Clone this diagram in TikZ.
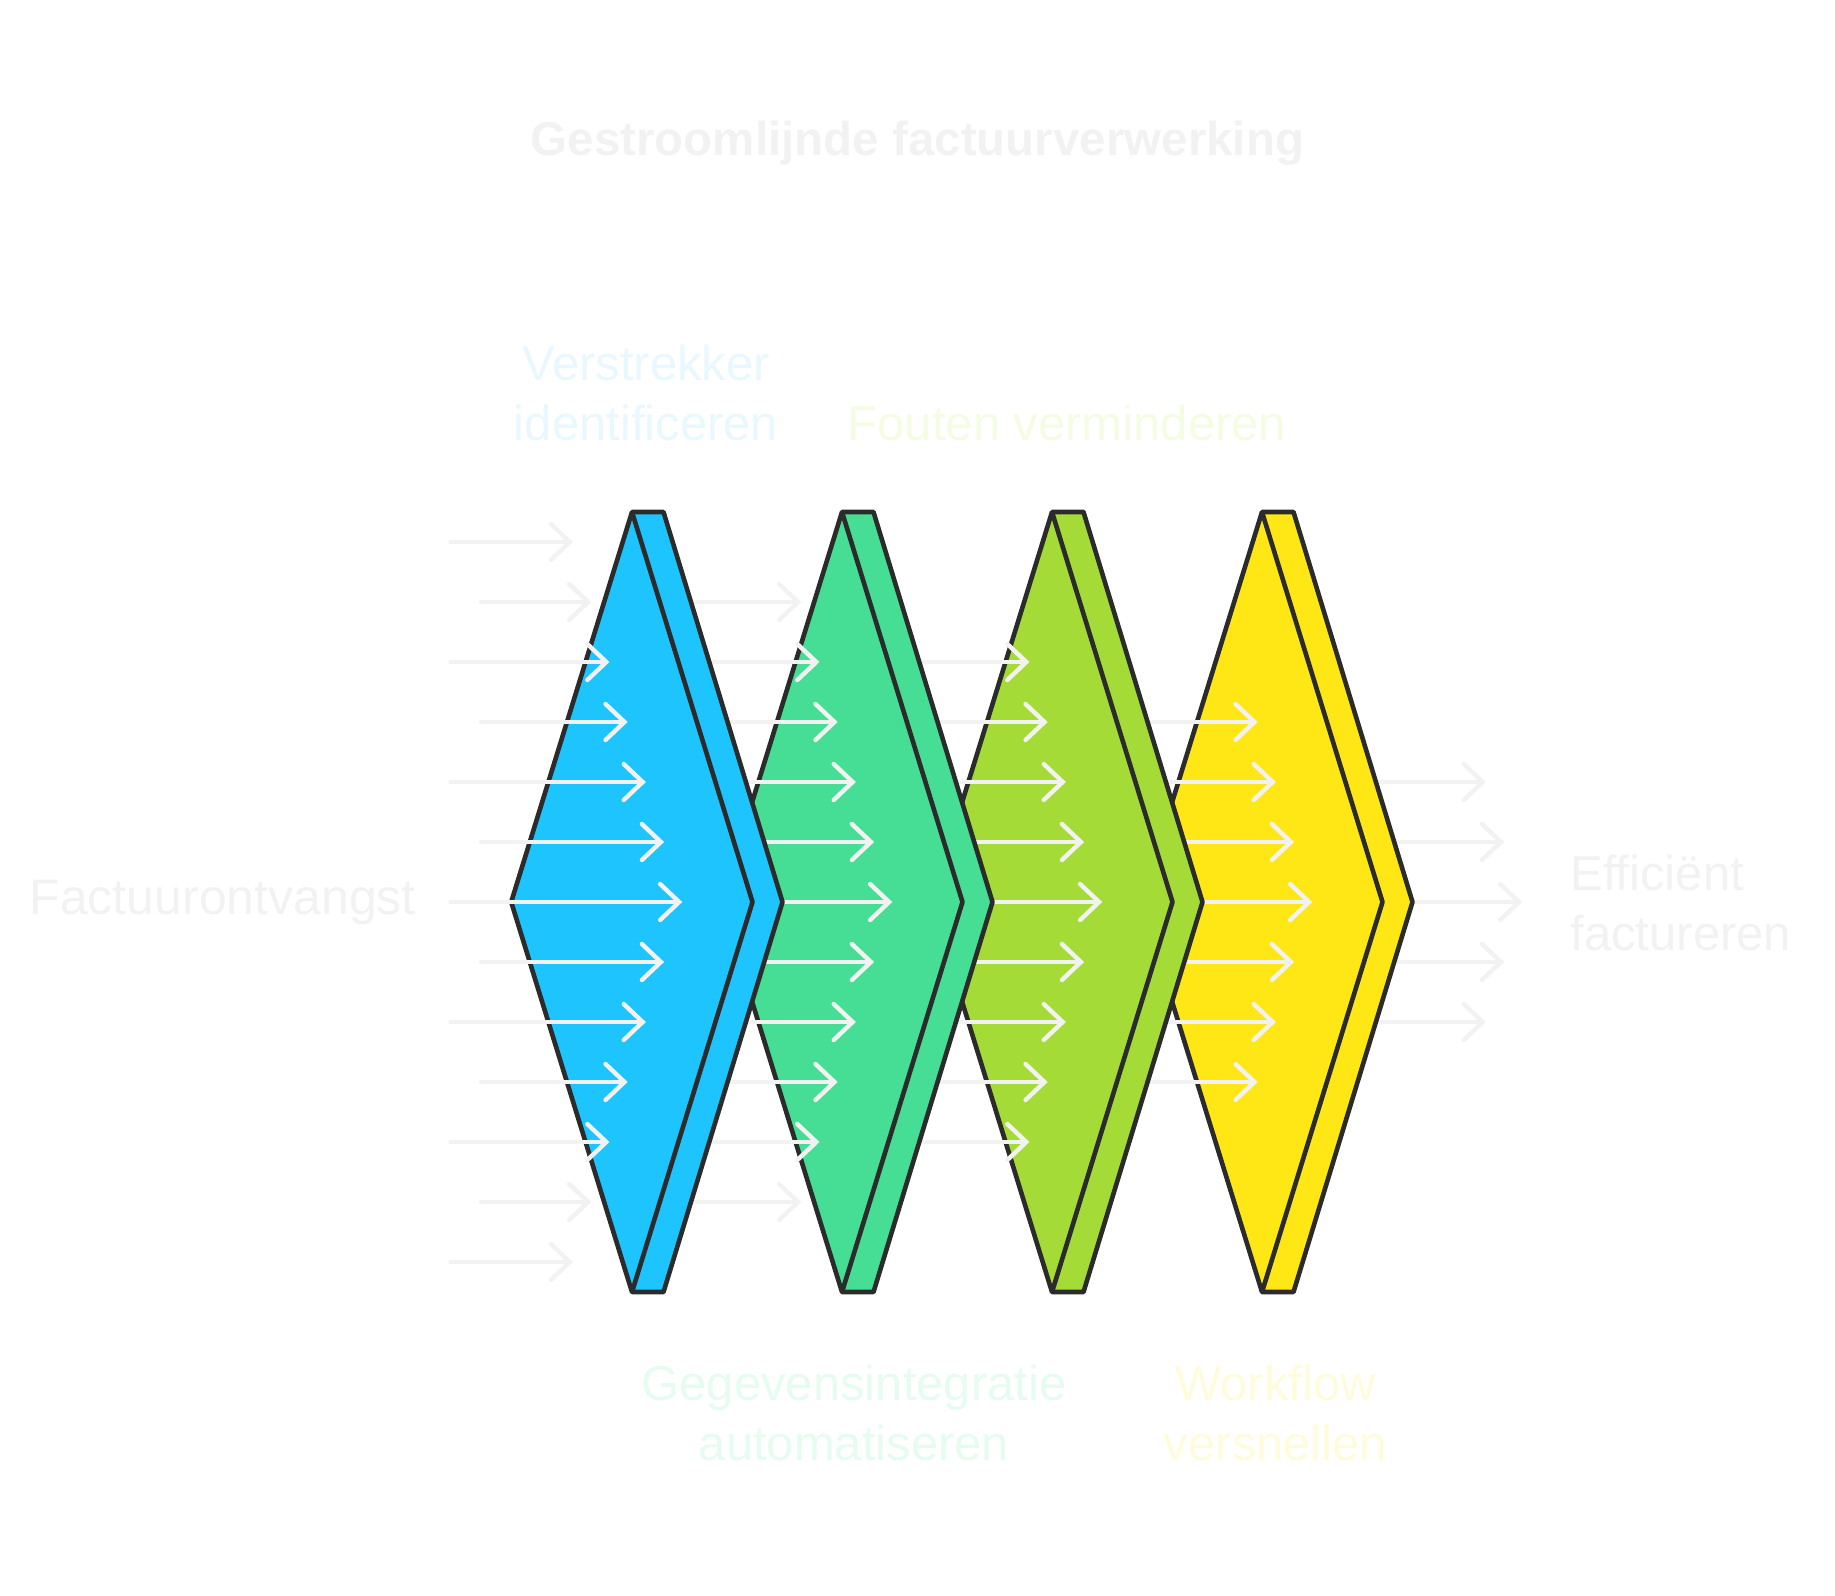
\documentclass[tikz,border=0pt]{standalone}
\usepackage{fontspec}
\setmainfont{Liberation Sans}
\usetikzlibrary{arrows.meta}

\definecolor{stageblue}{HTML}{1DC4FD}
\definecolor{stagegreen}{HTML}{45DE94}
\definecolor{stagelime}{HTML}{A5DB37}
\definecolor{stageyellow}{HTML}{FEE714}
\definecolor{outline}{HTML}{2B2B2B}
\definecolor{flowgray}{HTML}{F2F2F2}
\definecolor{paleblue}{HTML}{E8F8FE}
\definecolor{palegreen}{HTML}{E6FCF1}
\definecolor{palelime}{HTML}{F5FCE4}
\definecolor{paleyellow}{HTML}{FFFCDC}

\tikzset{
  stage/.style={draw=outline, line width=4.6pt, line join=round},
  flow/.style={draw=flowgray, line width=4.4pt, line cap=round,
    -{Straight Barb[length=19pt,width=36pt,line cap=round]}},
  stagetext/.style={font=\fontsize{49}{60}\selectfont, align=center},
}

\begin{document}
\begin{tikzpicture}[x=1pt, y=-1pt]
  \useasboundingbox (0,0) rectangle (1835,1595);

  % arrows of column \c+1, then stage \c on top of them
  \foreach \c/\fillc in {4/stageyellow,3/stagelime,2/stagegreen,1/stageblue}{
    \pgfmathtruncatemacro{\n}{6-\c}
    \foreach \k in {-\n,...,\n}{
      \pgfmathsetmacro{\xs}{ifthenelse(mod(abs(\k),2)==0,450.6,481)+210*\c}
      \pgfmathsetmacro{\xe}{682.3-18.2*abs(\k)+210*\c}
      \draw[flow] (\xs,902+60*\k) -- (\xe,902+60*\k);
    }
    \pgfmathsetmacro{\xo}{632+210*(\c-1)}
    \draw[stage, fill=\fillc] (\xo,512) -- (\xo+31.5,512) -- (\xo+150.5,902)
      -- (\xo+31.5,1292) -- (\xo,1292) -- (\xo-120.8,902) -- cycle;
    \draw[stage] (\xo,512) -- (\xo+120.5,902) -- (\xo,1292);
  }
  % first column
  \foreach \k in {-6,...,6}{
    \pgfmathsetmacro{\xs}{ifthenelse(mod(abs(\k),2)==0,450.6,481)}
    \pgfmathsetmacro{\xe}{682.3-18.2*abs(\k)}
    \draw[flow] (\xs,902+60*\k) -- (\xe,902+60*\k);
  }

  \node[font=\bfseries\fontsize{47.5}{56}\selectfont, text=flowgray] (title) at (917.5,143) {Gestroomlijnde factuurverwerking};

  \node[stagetext, text=paleblue] (verstrekker) at (646,393) {Verstrekker\\identificeren};
  \node[stagetext, text=palelime] (fouten) at (1067,422.5) {Fouten verminderen};
  \node[stagetext, text=palegreen] (gegevens) at (854,1413) {Gegevensintegratie\\automatiseren};
  \node[stagetext, text=paleyellow] (workflow) at (1275.6,1413) {Workflow\\versnellen};
  \node[stagetext, text=flowgray, anchor=west, font=\fontsize{50}{60}\selectfont] (ontvangst) at (26,902) {Factuurontvangst};
  \node[stagetext, text=flowgray, anchor=west, align=left] (efficient) at (1567,903) {Efficiënt\\factureren};
\end{tikzpicture}
\end{document}
